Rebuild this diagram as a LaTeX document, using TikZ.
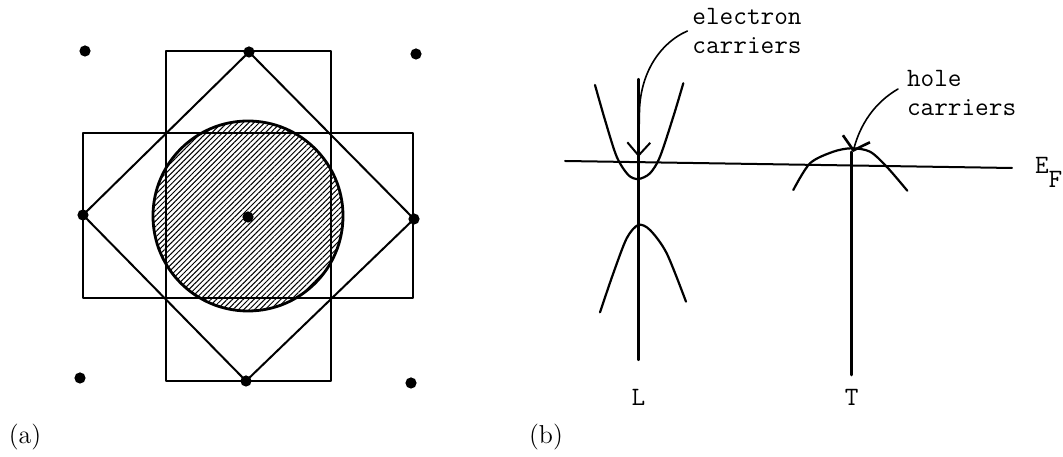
\documentclass[tikz,border=0pt]{standalone}
\usepackage{fontspec}
\usetikzlibrary{arrows.meta,patterns.meta}
\begin{document}
\begin{tikzpicture}[x=0.5bp,y=-0.5bp,line width=1bp,line cap=round,line join=round,
  dot/.style={circle,fill=black,inner sep=0pt,minimum size=5.6bp},
  lbl/.style={font=\fontsize{13}{15}\selectfont,inner sep=0pt},
  tt/.style={font=\ttfamily\fontsize{13.3}{14.5}\selectfont,inner sep=0pt},
  band/.style={line width=1.1bp},
  axis/.style={line width=1.1bp},
  ptr/.style={line width=0.8bp,-{Straight Barb[length=6.5pt,width=11.5pt,line width=1bp]}},
  hptr/.style={line width=0.8bp,-{Straight Barb[length=6pt,width=14pt,line width=1.3bp]}},
  hatch/.style={pattern={Lines[angle=45,distance=1.9pt,line width=0.5pt]},pattern color=black}]
\useasboundingbox (0,0) rectangle (1063,457);

% ---------- (a) ----------
\fill[hatch] (248,216) circle[radius=95];
\draw[line width=1.4bp] (248,216) circle[radius=95];
\draw (165.5,51) rectangle (330.5,381);
\draw (83,133.5) rectangle (413,298.5);

\node[dot] (d11) at (85,51) {};
\node[dot] (d12) at (249,52) {};
\node[dot] (d13) at (416,54) {};
\node[dot] (d21) at (83,215) {};
\node[dot] (d22) at (248,217) {};
\node[dot] (d23) at (414,219) {};
\node[dot] (d31) at (80,378) {};
\node[dot] (d32) at (246,381) {};
\node[dot] (d33) at (411,383) {};
\draw (d12.center) -- (d23.center) -- (d32.center) -- (d21.center) -- cycle;

\node[lbl] (la) at (25,437) {(a)};

% ---------- (b) ----------
\node[lbl] (lb) at (546,437) {(b)};

\coordinate (efl) at (565,161);
\coordinate (efr) at (1012,168);
\draw (efl) -- (efr);
\node[tt,anchor=west] (ef) at (1034,172) {E\raisebox{-7bp}{F}};

% L point
\coordinate (ltop) at (638.5,79);
\coordinate (lbot) at (638.5,360);
\draw[axis] (ltop) -- (lbot);
\node[tt] (L) at (638.5,397) {L};
\draw[band] plot[smooth] coordinates {(595,85) (605,120) (616.7,156.7) (628.3,175) (638.3,179) (650,173.3) (660,156.7) (673.3,116.7) (683.3,83.3)};
\draw[band] plot[smooth] coordinates {(600,312.3) (613.3,273.3) (626.7,238.3) (638.3,225) (650,230) (666.7,253.3) (686,301.7)};

% T point
\coordinate (ttop) at (851.7,152);
\coordinate (tbot) at (851.7,375);
\draw[line width=1.5bp] (ttop) -- (tbot);
\node[tt] (T) at (851.7,397) {T};
\draw[band] plot[smooth] coordinates {(793.3,190) (810,163.3) (833.3,151.7) (851.7,148.3) (870,151.7) (886.7,166.7) (907.3,190.7)};

% labels and pointers
\node[tt,align=center] (ecar) at (747,31) {electron\\carriers};
\node[tt,align=left,anchor=west] (hcar) at (906,93) {hole\\carriers};
\coordinate (etip) at (638.5,157);
\coordinate (htip) at (853,152);
\draw[ptr] ([xshift=-2bp]ecar.west) .. controls (662,42) and (641,70) .. (639.5,110) -- (etip);
\draw[hptr] ([xshift=-4bp,yshift=2bp]hcar.west) .. controls (874,103) and (860,125) .. (htip);
\end{tikzpicture}
\end{document}
